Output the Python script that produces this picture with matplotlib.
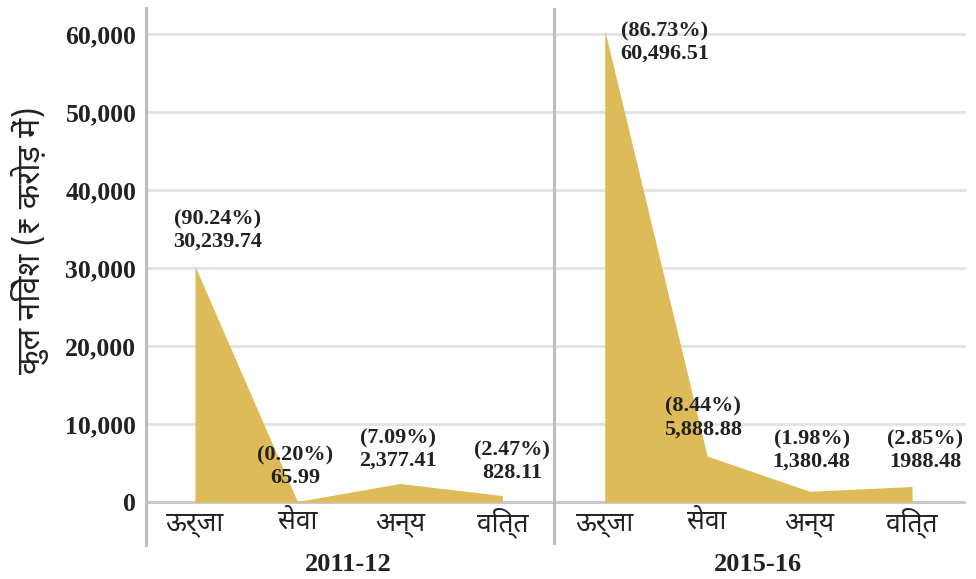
import matplotlib
matplotlib.use("Agg")
import matplotlib.pyplot as plt
import matplotlib.transforms as mtransforms

# data
sectors = ["ऊर्जा", "सेवा", "अन्य", "वित्त"]
years = ["2011-12", "2015-16"]
invest_2011 = [30239.74, 65.99, 2377.41, 828.11]
invest_2015 = [60496.51, 5888.88, 1380.48, 1988.48]
share_2011 = ["90.24%", "0.20%", "7.09%", "2.47%"]
share_2015 = ["86.73%", "8.44%", "1.98%", "2.85%"]
value_labels_2011 = ["30,239.74", "65.99", "2,377.41", "828.11"]
value_labels_2015 = ["60,496.51", "5,888.88", "1,380.48", "1988.48"]
yticks = [0, 10000, 20000, 30000, 40000, 50000, 60000]

deva = ["Noto Sans Devanagari", "DejaVu Sans"]
serif = ["Liberation Serif", "DejaVu Serif"]
fill_color = "#DDBB58"
ink = "#222222"

fig = plt.figure(figsize=(9.76, 5.79), dpi=100)
ax = fig.add_axes([0.1496, 0.0587, 0.8402, 0.9275])

# one axes, two panels side by side
x_left = [0, 1, 2, 3]
x_right = [4, 5, 6, 7]
ax.fill_between(x_left, 0, invest_2011, color=fill_color, linewidth=0, zorder=2)
ax.fill_between(x_right, 0, invest_2015, color=fill_color, linewidth=0, zorder=2)

ax.set_xlim(-0.478, 7.527)
ax.set_ylim(-5513, 63333)

# gridlines
for t in yticks:
    ax.axhline(t, color="#c9c9c9" if t == 0 else "#e4e4e4", lw=2.2, zorder=1)
ax.axvline(3.5, color="#bdbdbd", lw=2.2, zorder=1)

for s in ["top", "right", "bottom"]:
    ax.spines[s].set_visible(False)
ax.spines["left"].set_color("#bdbdbd")
ax.spines["left"].set_linewidth(2.2)

ax.set_yticks(yticks)
ax.set_yticklabels([f"{t:,}" for t in yticks], family=serif, fontweight="bold", fontsize=18.5)
ax.tick_params(axis="y", length=0, pad=7, colors=ink)
ax.set_xticks([])

ax.set_ylabel("कुल निवेश (₹ करोड़ में)", family=deva, fontsize=23, fontweight="medium", color=ink)
ax.yaxis.set_label_coords(-0.118, 0.568)

# category and year labels
trans = mtransforms.blended_transform_factory(ax.transData, ax.transAxes)
for xs in (x_left, x_right):
    for x, name in zip(xs, sectors):
        ax.text(x, 0.041, name, transform=trans, ha="center", va="center",
                family=deva, fontsize=19, fontweight="medium", color=ink)
for xc, yr in zip([1.5, 5.5], years):
    ax.text(xc, -0.036, yr, transform=trans, ha="center", va="center",
            family=serif, fontweight="bold", fontsize=19, color=ink)

# value annotations
offsets_2011 = [(23, 36), (-2, 35), (-2, 34), (10, 34)]
offsets_2015 = [(60, -12), (-4, 38), (2, 41), (13, 36)]
for xs, vals, shares, labs, offs in [
    (x_left, invest_2011, share_2011, value_labels_2011, offsets_2011),
    (x_right, invest_2015, share_2015, value_labels_2015, offsets_2015),
]:
    for x, v, sh, lab, off in zip(xs, vals, shares, labs, offs):
        ax.annotate(f"({sh})\n{lab}", (x, v), xytext=off, textcoords="offset pixels",
                    ha="center", va="center", family=serif, fontweight="bold",
                    fontsize=16, color=ink, linespacing=1.15, zorder=3)

fig.savefig("out.png", dpi=100)
